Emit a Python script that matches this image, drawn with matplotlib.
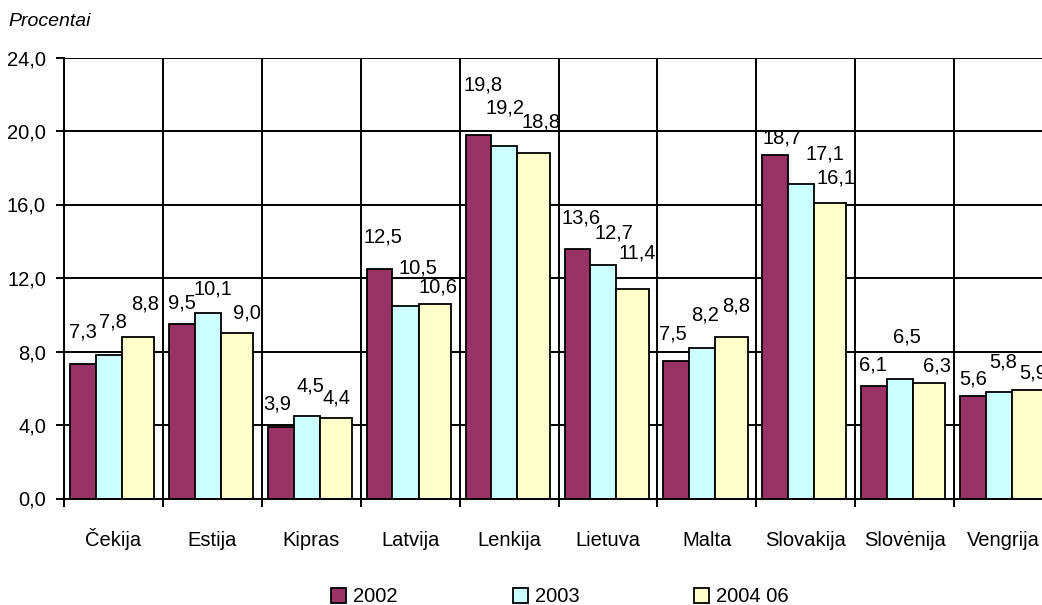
import matplotlib
matplotlib.use("Agg")
import matplotlib.pyplot as plt
from matplotlib.ticker import FixedLocator, FuncFormatter
from matplotlib.transforms import blended_transform_factory

# ---- data -------------------------------------------------------------
countries = ["Čekija", "Estija", "Kipras", "Latvija", "Lenkija",
             "Lietuva", "Malta", "Slovakija", "Slovėnija", "Vengrija"]
series_names = ["2002", "2003", "2004 06"]
v2002 = [7.3, 9.5, 3.9, 12.5, 19.8, 13.6, 7.5, 18.7, 6.1, 5.6]
v2003 = [7.8, 10.1, 4.5, 10.5, 19.2, 12.7, 8.2, 17.1, 6.5, 5.8]
v2004 = [8.8, 9.0, 4.4, 10.6, 18.8, 11.4, 8.8, 16.1, 6.3, 5.9]
y_ticks = [0, 4, 8, 12, 16, 20, 24]

# ---- styling ----------------------------------------------------------
colors = ["#993366", "#CCFFFF", "#FFFFCC"]
# left edge and width of each series' bar inside a category slot
bar_left = [0.061, 0.321, 0.585]
bar_width = [0.260, 0.264, 0.327]
# data label offsets in pixels (dx, dy from bar top centre)
label_dx = [
    [0, 4, 7], [0, 5, 10], [-3, 4, 1], [3, 12, 3], [5, 1, 7],
    [4, 11, 5], [-3, 3, 5], [7, 24, 6], [-1, 7, 8], [0, 4, 5],
]
label_dy = [
    [32, 33, 33], [21, 24, 20], [23, 30, 20], [32, 38, 17], [50, 38, 31],
    [31, 32, 36], [27, 33, 31], [17, 30, 25], [21, 42, 17], [17, 30, 17],
]

plt.rcParams["font.family"] = ["Liberation Sans", "DejaVu Sans"]
fs = 14.5

fig = plt.figure(figsize=(10.42, 6.05), dpi=100)
ax = fig.add_axes([64 / 1042, 1 - 498.5 / 605, 989 / 1042, 441 / 605])

series = [v2002, v2003, v2004]
handles = []
for s, vals in enumerate(series):
    xs = [i + bar_left[s] for i in range(len(countries))]
    bars = ax.bar(xs, vals, width=bar_width[s], align="edge",
                  color=colors[s], edgecolor="black", linewidth=1.3,
                  zorder=3, label=series_names[s])
    handles.append(bars)
    for i, (rect, v) in enumerate(zip(bars, vals)):
        cx = rect.get_x() + rect.get_width() / 2
        ax.annotate(f"{v:.1f}".replace(".", ","), (cx, v),
                    xytext=(label_dx[i][s], label_dy[i][s]),
                    textcoords="offset pixels", ha="center", va="center",
                    fontsize=fs, color="black", zorder=4,
                    annotation_clip=False)

ax.set_xlim(0, len(countries))
ax.set_ylim(0, 24)

# category boundaries carry the ticks and vertical grid lines
ax.xaxis.set_major_locator(FixedLocator(list(range(len(countries) + 1))))
ax.xaxis.set_major_formatter(FuncFormatter(lambda x, p: ""))
ax.tick_params(axis="x", which="major", length=6, width=1.4, color="black")

# category names sit on a common baseline under each slot
xtrans = blended_transform_factory(ax.transData, fig.transFigure)
for i, name in enumerate(countries):
    ax.text(i + 0.5, 1 - 546 / 605, name, transform=xtrans, ha="center",
            va="baseline", fontsize=fs, clip_on=False)

ax.set_yticks(y_ticks)
ax.yaxis.set_major_formatter(FuncFormatter(lambda y, p: f"{y:.1f}".replace(".", ",")))
ax.tick_params(axis="y", length=6, width=1.4, color="black", pad=7, labelsize=fs)

ax.grid(True, which="major", axis="both", color="black", linewidth=1.4, zorder=1)
ax.set_axisbelow(True)
for side in ["top", "right"]:
    ax.spines[side].set_visible(False)
for side in ["left", "bottom"]:
    ax.spines[side].set_linewidth(1.4)
    ax.spines[side].set_zorder(3.5)

fig.text(8 / 1042, 1 - 22 / 605, "Procentai", fontsize=fs - 0.5, style="italic",
         ha="left", va="center")

fig.legend(handles=handles, labels=series_names, loc="center",
           bbox_to_anchor=(560 / 1042, 1 - 597 / 605), ncol=3, frameon=False,
           fontsize=fs, handlelength=0.75, handleheight=0.75,
           handletextpad=0.35, columnspacing=5.7, borderpad=0,
           borderaxespad=0)

fig.savefig("out.png", dpi=100, facecolor="white")
